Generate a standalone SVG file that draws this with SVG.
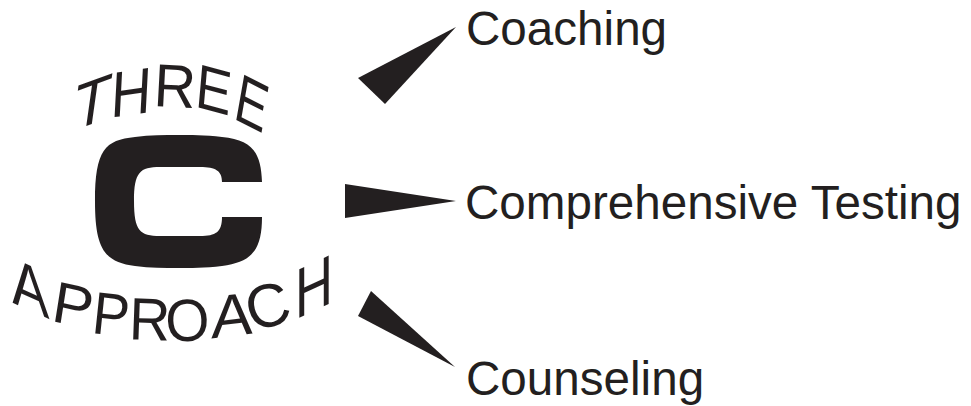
<svg xmlns="http://www.w3.org/2000/svg" width="971" height="406" viewBox="0 0 971 406">
<style>
.t{font-family:"Liberation Sans",Arial,sans-serif;font-size:47.6px;fill:#231f20}
.a{font-family:"Liberation Sans",Arial,sans-serif;font-size:58px;fill:#231f20;text-anchor:middle}
.w{fill:#231f20}
</style>
<rect width="971" height="406" fill="#fff"/>
<g id="node-three">
<text class="a" transform="translate(89,125) rotate(-20) skewX(-28) scale(1.1,1.02)">T</text>
<text class="a" transform="translate(130,115) rotate(-8) skewX(-11) scale(0.97,1.1)">H</text>
<text class="a" transform="translate(174,107) rotate(3) scale(1,1.05)">R</text>
<text class="a" transform="translate(212,111) rotate(15) skewX(10) scale(0.95,1.05)">E</text>
<text class="a" transform="translate(248,126) rotate(27) skewX(17) scale(0.9,1.1)">E</text>
</g>
<g id="node-c"><path class="w" d="M262 182H222C222 171 216 167 200 167H160C140 167 134 172 134 201C134 231 140 236 160 236H200C216 236 222 232 222 217H262C262 250 252 262 222 266C205 268 190 268 178 268C165 268 150 268 135 266C105 262 95 250 95 201C95 150 105 140 135 137C150 135 165 135 178 135C190 135 205 135 222 137C252 140 261 152 262 182Z"/></g>
<g id="node-approach">
<text class="a" transform="translate(31,311) rotate(24) skewX(28) scale(1.05,1.03)">A</text>
<text class="a" transform="translate(70,325) rotate(12) skewX(3) scale(1.05,1)">P</text>
<text class="a" transform="translate(109,335) rotate(6) scale(0.95,1.03)">P</text>
<text class="a" transform="translate(149,340) rotate(2) scale(0.98,1.03)">R</text>
<text class="a" transform="translate(188,341) rotate(-2) scale(0.98,1.03)">O</text>
<text class="a" transform="translate(232,336) rotate(-7) skewX(-7) scale(1.08,1.03)">A</text>
<text class="a" transform="translate(273,326) rotate(-15) scale(1.05,1.05)">C</text>
<text class="a" transform="translate(314,311) rotate(-25) skewX(-25) scale(1,1.1)">H</text>
</g>
<g id="connectors">
<polygon class="w" points="358,78 456,27 385,104"/>
<polygon class="w" points="345,184 456,201 345,218"/>
<polygon class="w" points="371,291 455,367 358,316"/>
</g>
<g id="node-coaching"><text class="t" x="466" y="45">Coaching</text></g>
<g id="node-testing"><text class="t" x="465" y="219">Comprehensive Testing</text></g>
<g id="node-counseling"><text class="t" x="466" y="395">Counseling</text></g>
</svg>
